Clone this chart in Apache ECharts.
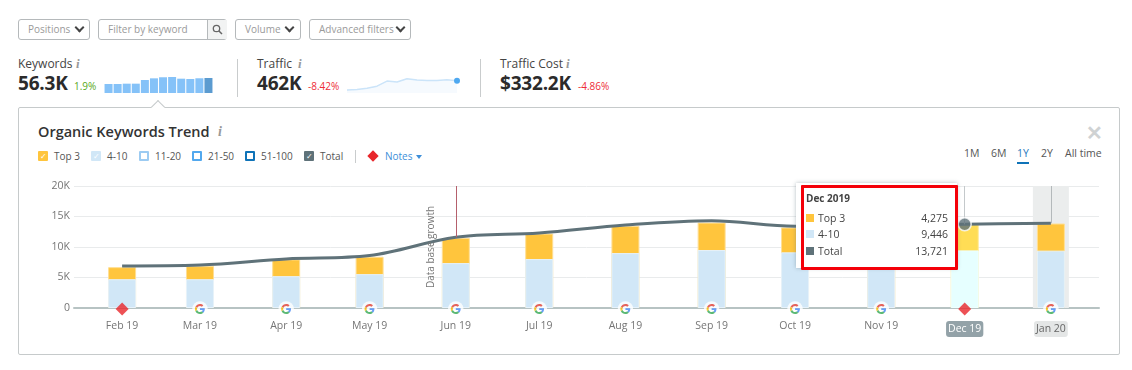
<!doctype html>
<html>
    <head>
        <meta charset="utf-8">
        <title>Organic Keywords Trend</title>
        <style>
            html, body { margin: 0; padding: 0; background: #fff; }
            body { width: 1132px; height: 370px; overflow: hidden; position: relative; font-family: "Open Sans", "Noto Sans", sans-serif; color: #333; }
            .abs { position: absolute; white-space: nowrap; }
            .btn { border: 1px solid #b5b9bb; border-radius: 3px; height: 19px; line-height: 19px; font-size: 10px; color: #9a9a9a; box-sizing: content-box; padding-left: 9px; }
            .chev { position: absolute; top: 4px; width: 5px; height: 5px; border-right: 2px solid #444; border-bottom: 2px solid #444; transform: rotate(45deg); }
            .kpi-name { font-size: 12px; color: #444; }
            .kpi-val { font-size: 19px; font-weight: 700; color: #2b2b2b; letter-spacing: -0.2px; }
            .delta { font-size: 10px; }
            .info { font-family: "Liberation Serif", serif; font-style: italic; font-weight: 700; font-size: 13px; color: #999; }
            .divider { width: 1px; background: #c9cccd; }
            .leg-box { width: 10px; height: 10px; box-sizing: border-box; border-radius: 1px; color: #fff; font-size: 8px; line-height: 10px; text-align: center; }
            .leg-label { font-size: 10px; color: #555; }
            .range { font-size: 10.5px; color: #555; }
            #card { left: 18px; top: 107px; width: 1100px; height: 246px; border: 1px solid #c6cacb; border-radius: 2px; }
            #notch { left: 153px; top: 102px; width: 9px; height: 9px; background: #fff; border-left: 1px solid #c6cacb; border-top: 1px solid #c6cacb; transform: rotate(45deg); }
            #main { position: absolute; left: 0; top: 0; width: 1132px; height: 370px; }
            #tip { left: 796px; top: 183px; width: 161px; height: 85px; background: #fff; box-shadow: 0 0 4px rgba(90,110,120,0.45); z-index: 5; }
            #tipFrame { left: 801px; top: 185px; width: 151px; height: 79px; border: 3px solid #f40009; border-radius: 1px; z-index: 6; }
            .tip-row { left: 806px; width: 142px; font-size: 10.5px; color: #444; z-index: 7; height: 14px; line-height: 14px; }
            .tip-row i { display: inline-block; width: 8px; height: 8px; margin-right: 4px; }
            .tip-row b { position: absolute; right: 0; top: 0; font-weight: 400; }
        </style>
    </head>
    <body>
        <div class="abs btn" style="left:18px;top:19px;width:61px">Positions<span class="chev" style="left:57px"></span></div>
        <div class="abs btn" style="left:98px;top:19px;width:118px">Filter by keyword</div>
        <div class="abs" style="left:207px;top:20px;width:19px;height:19px;background:#f2f3f3;border-left:1px solid #b5b9bb">
            <svg width="19" height="19" viewBox="0 0 19 19"><circle cx="8.5" cy="8.5" r="3.2" fill="none" stroke="#666" stroke-width="1.3"/><line x1="11" y1="11" x2="14" y2="14" stroke="#666" stroke-width="1.5"/></svg>
        </div>
        <div class="abs btn" style="left:235px;top:19px;width:55px">Volume<span class="chev" style="left:50px"></span></div>
        <div class="abs btn" style="left:309px;top:19px;width:91px">Advanced filters<span class="chev" style="left:87px"></span></div>

        <div class="abs kpi-name" style="left:18px;top:55px">Keywords</div>
        <div class="abs info" style="left:76px;top:56px">i</div>
        <div class="abs kpi-val" style="left:18px;top:70px">56.3K</div>
        <div class="abs delta" style="left:74px;top:79px;color:#5aa821">1.9%</div>
        <div class="abs divider" style="left:237px;top:59px;height:38px"></div>

        <div class="abs kpi-name" style="left:257px;top:55px">Traffic</div>
        <div class="abs info" style="left:298px;top:56px">i</div>
        <div class="abs kpi-val" style="left:257px;top:70px">462K</div>
        <div class="abs delta" style="left:308px;top:79px;color:#ee2c36">-8.42%</div>
        <div class="abs divider" style="left:480px;top:59px;height:38px"></div>

        <div class="abs kpi-name" style="left:500px;top:55px">Traffic Cost</div>
        <div class="abs info" style="left:566px;top:56px">i</div>
        <div class="abs kpi-val" style="left:500px;top:70px">$332.2K</div>
        <div class="abs delta" style="left:578px;top:79px;color:#ee2c36">-4.86%</div>

        <div id="spark1" class="abs" style="left:100px;top:74px;width:118px;height:22px"></div>
        <div id="spark2" class="abs" style="left:342px;top:74px;width:122px;height:22px"></div>

        <div id="card" class="abs"></div>
        <div id="notch" class="abs"></div>

        <div class="abs" style="left:38px;top:122px;font-size:14.5px;font-weight:600;color:#333">Organic Keywords Trend</div>
        <div class="abs info" style="left:218px;top:124px;font-size:14px">i</div>
        <div class="abs" style="left:1086px;top:119px;font-size:20px;color:#cfd2d3;font-weight:700">&#10005;</div>

        <div id="legend"></div>
        <div class="abs divider" style="left:355px;top:150px;height:13px"></div>
        <div class="abs" style="left:369px;top:152px;width:8px;height:8px;background:#e8262b;transform:rotate(45deg)"></div>
        <div class="abs" style="left:385px;top:149px;font-size:10px;color:#3d8fd9">Notes</div>
        <div class="abs" style="left:416px;top:155px;border-left:3px solid transparent;border-right:3px solid transparent;border-top:4px solid #3d8fd9"></div>

        <div class="abs range" style="left:964px;top:146px">1M</div>
        <div class="abs range" style="left:991px;top:146px">6M</div>
        <div class="abs range" style="left:1017px;top:146px;color:#1f79bd">1Y</div>
        <div class="abs" style="left:1017px;top:162px;width:12px;height:2px;background:#0f73b8"></div>
        <div class="abs range" style="left:1041px;top:146px">2Y</div>
        <div class="abs range" style="left:1065px;top:146px">All time</div>

        <div id="main"></div>

        <div id="tip" class="abs"></div>
        <div id="tipFrame" class="abs"></div>
        <div id="tipRows"></div>

        <script src="https://cdn.jsdelivr.net/npm/echarts@6/dist/echarts.min.js"></script>
        <script>
            var months = ['2019-02-01', '2019-03-01', '2019-04-01', '2019-05-01', '2019-06-01', '2019-07-01',
                '2019-08-01', '2019-09-01', '2019-10-01', '2019-11-01', '2019-12-01', '2020-01-01'];
            var monthLabels = ['Feb 19', 'Mar 19', 'Apr 19', 'May 19', 'Jun 19', 'Jul 19',
                'Aug 19', 'Sep 19', 'Oct 19', 'Nov 19', 'Dec 19', 'Jan 20'];
            var fourToTen = [4720, 4720, 5220, 5550, 7360, 8020, 9000, 9500, 9120, 9250, 9446, 9400];
            var top3 = [1980, 2150, 2750, 2850, 4120, 4180, 4460, 4500, 4080, 4150, 4275, 4450];
            var total = [6900, 7050, 8050, 8600, 11600, 12300, 13600, 14300, 13400, 13500, 13721, 13900];
            var googleNotes = ['2019-03-01', '2019-04-01', '2019-05-01', '2019-06-01', '2019-07-01',
                '2019-08-01', '2019-09-01', '2019-10-01', '2019-11-01', '2020-01-01'];
            var redNotes = ['2019-02-01', '2019-12-01'];
            var keywordSpark = [33.8, 33.8, 35, 35, 48.8, 55, 59, 60, 53.7, 52.5, 55.2, 56.3];
            var trafficSpark = [110, 135, 182, 255, 448, 411, 535, 484, 473, 473, 499, 462];
            var legendItems = [
                ['Top 3', 38, 'background:#ffc53d', '&#10003;'],
                ['4-10', 91, 'background:#d1e7f7', '&#10003;'],
                ['11-20', 139, 'border:2px solid #9ccbf2', ''],
                ['21-50', 192, 'border:2px solid #52a8ee', ''],
                ['51-100', 245, 'border:2px solid #0f73b8', ''],
                ['Total', 304, 'background:#5f7279', '&#10003;']
            ];

            var legendHtml = '';
            legendItems.forEach(function (it) {
                legendHtml += '<div class="abs leg-box" style="left:' + it[1] + 'px;top:151px;' + it[2] + '">' + it[3] + '</div>'
                    + '<div class="abs leg-label" style="left:' + (it[1] + 16) + 'px;top:149px">' + it[0] + '</div>';
            });
            document.getElementById('legend').innerHTML = legendHtml;

            var tipIdx = 10;
            function fmt(n) { return n.toLocaleString('en-US'); }
            document.getElementById('tipRows').innerHTML =
                '<div class="abs tip-row" style="top:191px;font-weight:700;font-size:10px">Dec 2019</div>'
                + '<div class="abs tip-row" style="top:211px"><i style="background:#ffc53d"></i>Top 3<b>' + fmt(top3[tipIdx]) + '</b></div>'
                + '<div class="abs tip-row" style="top:227px"><i style="background:#d1e7f7"></i>4-10<b>' + fmt(fourToTen[tipIdx]) + '</b></div>'
                + '<div class="abs tip-row" style="top:244px"><i style="background:#5f7279"></i>Total<b>' + fmt(total[tipIdx]) + '</b></div>';

            // x is a value axis of timestamps, months are not evenly spaced
            var ticks = months.map(function (m) { return +echarts.time.parse(m); });
            var dayMs = 86400000;
            var xMin = ticks[0] - 17.3 * dayMs;
            var xMax = ticks[ticks.length - 1] + 17.3 * dayMs;
            function ts(m) { return ticks[months.indexOf(m)]; }

            function pairs(values, styleIdx, style) {
                return values.map(function (v, i) {
                    var item = { value: [ticks[i], v] };
                    if (i === styleIdx) {
                        item.itemStyle = style;
                    }
                    return item;
                });
            }

            // stack does not run on a value/value grid, so Top 3 is summed by hand and drawn behind 4-10
            var top3Stacked = top3.map(function (v, i) { return v + fourToTen[i]; });

            var gSvg = '<svg xmlns="http://www.w3.org/2000/svg" viewBox="-14 -14 76 76" width="76" height="76">'
                + '<circle cx="24" cy="24" r="37" fill="#fff"/>'
                + '<path fill="#EA4335" d="M24 9.5c3.54 0 6.71 1.22 9.21 3.6l6.85-6.85C35.9 2.38 30.47 0 24 0 14.62 0 6.51 5.38 2.56 13.22l7.98 6.19C12.43 13.72 17.74 9.5 24 9.5z"/>'
                + '<path fill="#4285F4" d="M46.98 24.55c0-1.57-.15-3.09-.38-4.55H24v9.02h12.94c-.58 2.96-2.26 5.48-4.78 7.18l7.73 6c4.51-4.18 7.09-10.36 7.09-17.65z"/>'
                + '<path fill="#FBBC05" d="M10.53 28.59c-.48-1.45-.76-2.99-.76-4.59s.27-3.14.76-4.59l-7.98-6.19C.92 16.46 0 20.12 0 24c0 3.88.92 7.54 2.56 10.78l7.97-6.19z"/>'
                + '<path fill="#34A853" d="M24 48c6.48 0 11.93-2.13 16.09-5.81l-7.73-6c-2.15 1.45-4.92 2.3-8.36 2.3-6.26 0-11.57-4.22-13.47-9.91l-7.98 6.19C6.51 42.62 14.62 48 24 48z"/>'
                + '</svg>';
            var gSymbol = 'image://data:image/svg+xml;charset=utf-8,' + encodeURIComponent(gSvg);

            var chart = echarts.init(document.getElementById('main'));
            chart.setOption({
                animation: false,
                grid: { left: 74, right: 33, top: 186, bottom: 62 },
                graphic: [{
                    type: 'text', x: 431, y: 247, rotation: Math.PI / 2, z: 20,
                    style: { text: 'Data base growth', fill: '#777', font: '10px "Open Sans"', align: 'center', verticalAlign: 'middle' }
                }],
                xAxis: {
                    type: 'value', min: xMin, max: xMax,
                    axisLine: { onZero: false, lineStyle: { color: '#b7c3c3', width: 2 } },
                    axisTick: { show: false },
                    splitLine: { show: false },
                    axisLabel: {
                        customValues: ticks,
                        margin: 13,
                        color: '#757575', fontSize: 10.5, fontFamily: 'Open Sans',
                        formatter: function (value) {
                            var i = ticks.indexOf(+value);
                            if (i === 10) return '{active|' + monthLabels[i] + '}';
                            if (i === 11) return '{hover|' + monthLabels[i] + '}';
                            return monthLabels[i];
                        },
                        rich: {
                            active: { color: '#fff', backgroundColor: '#93a2a8', borderRadius: 3, padding: [3, 2, 2, 2], fontSize: 10.5 },
                            hover: { color: '#666', backgroundColor: '#e4e6e6', borderRadius: 3, padding: [3, 2, 2, 2], fontSize: 10.5 }
                        }
                    }
                },
                yAxis: {
                    type: 'value', min: 0, max: 20000, interval: 5000,
                    axisLine: { show: false },
                    axisTick: { show: false },
                    splitLine: { lineStyle: { color: '#e9ebec', width: 1 } },
                    axisLabel: {
                        color: '#757575', fontSize: 10.5, margin: 4, fontFamily: 'Open Sans',
                        formatter: function (v) { return v === 0 ? '0' : (v / 1000) + 'K'; }
                    }
                },
                series: [{
                    type: 'custom',
                    name: 'band',
                    silent: true,
                    z: 1,
                    data: [[ticks[11]]],
                    encode: { x: 0 },
                    renderItem: function (params, api) {
                        var x = api.coord([api.value(0), 0])[0];
                        var bottom = api.coord([api.value(0), 0])[1];
                        var top = api.coord([api.value(0), 20000])[1];
                        return { type: 'rect', shape: { x: x - 18, y: top, width: 36, height: bottom - top }, style: { fill: '#ebeded' } };
                    }
                }, {
                    type: 'bar', name: 'Top 3', barWidth: 28, barGap: '-100%', z: 2,
                    itemStyle: { color: '#ffc53d', borderColor: '#ffdf94', borderWidth: 1 },
                    data: pairs(top3Stacked, 10, { color: '#ffdd55', borderColor: '#ffe98f' })
                }, {
                    type: 'bar', name: '4-10', barWidth: 28, barGap: '-100%', z: 2,
                    itemStyle: { color: '#d1e7f7', borderColor: '#e6f2fb', borderWidth: 1 },
                    data: pairs(fourToTen, 10, { color: '#e6ffff', borderColor: '#effffe' })
                }, {
                    type: 'line', name: 'Total', smooth: 0.35, showSymbol: false, z: 4,
                    lineStyle: { color: '#5f7279', width: 3 },
                    data: ticks.map(function (t, i) { return [t, total[i]]; }),
                    markLine: {
                        silent: true, symbol: 'none', animation: false,
                        label: { show: false },
                        data: [
                            [{ coord: [ticks[4], 20000], lineStyle: { color: '#b5606c', width: 1, type: 'solid' } }, { coord: [ticks[4], total[4]] }],
                            [{ coord: [ticks[10], 20000], lineStyle: { color: '#c4c9cb', width: 1, type: 'solid' } }, { coord: [ticks[10], total[10]] }],
                            [{ coord: [ticks[11], 20000], lineStyle: { color: '#b4b9bb', width: 1, type: 'solid' } }, { coord: [ticks[11], total[11]] }]
                        ]
                    }
                }, {
                    type: 'scatter', name: 'current', z: 5, symbolSize: 13,
                    itemStyle: { color: '#5f7279', borderColor: '#fff', borderWidth: 1.5 },
                    data: [[ticks[10], total[10]]]
                }, {
                    type: 'scatter', name: 'google', z: 6, clip: false, symbol: gSymbol, symbolSize: 16, symbolOffset: [0, 1],
                    data: googleNotes.map(function (m) { return [ts(m), 0]; })
                }, {
                    type: 'scatter', name: 'notes', z: 6, clip: false, symbol: 'diamond', symbolSize: 13, symbolOffset: [0, 1],
                    itemStyle: { color: '#e8262b' },
                    data: redNotes.map(function (m) { return [ts(m), 0]; })
                }]
            });

            var spark1 = echarts.init(document.getElementById('spark1'));
            spark1.setOption({
                animation: false,
                grid: { left: 4, right: 5, top: 3, bottom: 3 },
                xAxis: { type: 'category', show: false, data: monthLabels },
                yAxis: { type: 'value', show: false, min: 0, max: 60 },
                series: [{
                    type: 'bar', barWidth: 8,
                    itemStyle: { color: '#85c2f8' },
                    data: keywordSpark.map(function (v, i) {
                        return i === keywordSpark.length - 1 ? { value: v, itemStyle: { color: '#5b9bd0' } } : v;
                    })
                }]
            });

            var spark2 = echarts.init(document.getElementById('spark2'));
            spark2.setOption({
                animation: false,
                grid: { left: 5, right: 7, top: 3, bottom: 3 },
                xAxis: { type: 'category', show: false, boundaryGap: false, data: monthLabels },
                yAxis: { type: 'value', show: false, min: 0, max: 600 },
                series: [{
                    type: 'line', showSymbol: false,
                    lineStyle: { color: '#cbe4f9', width: 1.5 },
                    areaStyle: { color: '#f2f8fd' },
                    data: trafficSpark,
                    markPoint: {
                        symbol: 'circle', symbolSize: 6, silent: true, label: { show: false },
                        itemStyle: { color: '#4ea8f0' },
                        data: [{ coord: [11, trafficSpark[11]] }]
                    }
                }]
            });
        </script>
    </body>
</html>
